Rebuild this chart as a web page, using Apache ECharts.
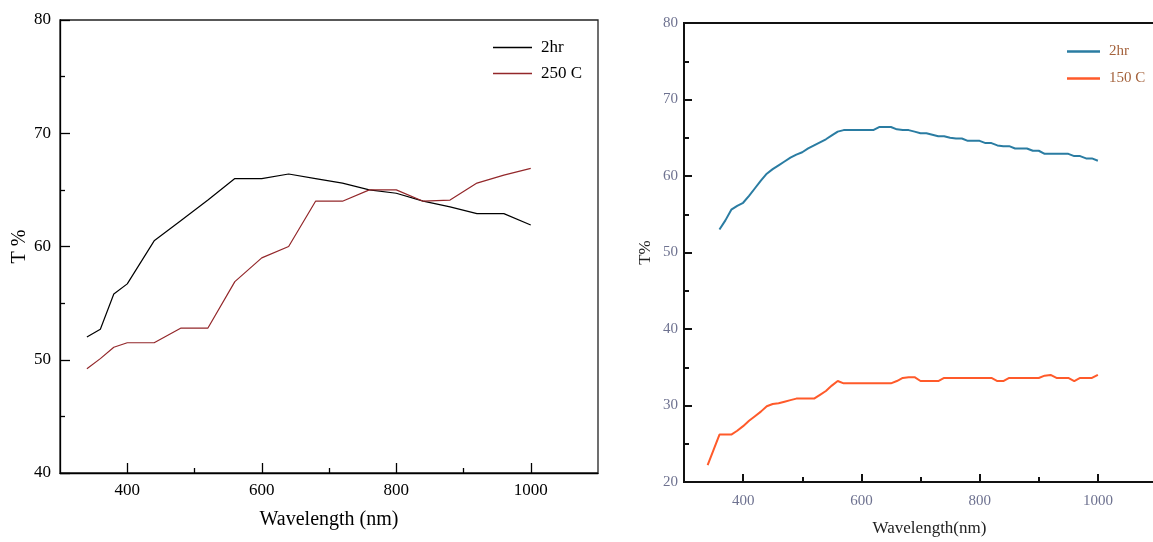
<!DOCTYPE html>
<html>
<head>
<meta charset="utf-8">
<script src="https://cdn.jsdelivr.net/npm/echarts@6/dist/echarts.min.js"></script>
<style>
  html, body { margin: 0; padding: 0; background: #fff; }
  #chart { width: 1153px; height: 542px; }
</style>
</head>
<body>
<div id="chart"></div>
<script>
// Left panel: transmittance after 2 h vs. 250 C anneal
const leftWavelength = [340, 360, 380, 400, 420, 440, 480, 520, 560, 600, 640, 680, 720, 760, 800, 840, 880, 920, 960, 1000];
const left2hr =        [52.0, 52.7, 55.8, 56.7, 58.6, 60.5, 62.3, 64.1, 66.0, 66.0, 66.4, 66.0, 65.6, 65.0, 64.7, 64.0, 63.5, 62.9, 62.9, 61.9];
const left250C =       [49.2, 50.1, 51.1, 51.5, 51.5, 51.5, 52.8, 52.8, 56.9, 59.0, 60.0, 64.0, 64.0, 65.0, 65.0, 64.0, 64.1, 65.6, 66.3, 66.9];

// Right panel: transmittance after 2 h vs. 150 C anneal
const rightWavelength = [
  340, 350, 360, 370, 380, 390, 400, 410, 420, 430,
  440, 450, 460, 470, 480, 490, 500, 510, 520, 530,
  540, 550, 560, 570, 580, 590, 600, 610, 620, 630,
  640, 650, 660, 670, 680, 690, 700, 710, 720, 730,
  740, 750, 760, 770, 780, 790, 800, 810, 820, 830,
  840, 850, 860, 870, 880, 890, 900, 910, 920, 930,
  940, 950, 960, 970, 980, 990, 1000
];
const right2hr = [
  null, null, 53.0, 54.2, 55.6, 56.1, 56.5, 57.4, 58.4, 59.4,
  60.3, 60.9, 61.4, 61.9, 62.4, 62.8, 63.1, 63.6, 64.0, 64.4,
  64.8, 65.3, 65.8, 66.0, 66.0, 66.0, 66.0, 66.0, 66.0, 66.4,
  66.4, 66.4, 66.1, 66.0, 66.0, 65.8, 65.6, 65.6, 65.4, 65.2,
  65.2, 65.0, 64.9, 64.9, 64.6, 64.6, 64.6, 64.3, 64.3, 64.0,
  63.9, 63.9, 63.6, 63.6, 63.6, 63.3, 63.3, 62.9, 62.9, 62.9,
  62.9, 62.9, 62.6, 62.6, 62.3, 62.3, 62.0
];
const right150C = [
  22.2, 24.2, 26.2, 26.2, 26.2, 26.7, 27.3, 28.0, 28.6, 29.2,
  29.9, 30.2, 30.3, 30.5, 30.7, 30.9, 30.9, 30.9, 30.9, 31.4,
  31.9, 32.6, 33.2, 32.9, 32.9, 32.9, 32.9, 32.9, 32.9, 32.9,
  32.9, 32.9, 33.2, 33.6, 33.7, 33.7, 33.2, 33.2, 33.2, 33.2,
  33.6, 33.6, 33.6, 33.6, 33.6, 33.6, 33.6, 33.6, 33.6, 33.2,
  33.2, 33.6, 33.6, 33.6, 33.6, 33.6, 33.6, 33.9, 34.0, 33.6,
  33.6, 33.6, 33.2, 33.6, 33.6, 33.6, 34.0
];

// Axis ticks
const xMajorTicks = [400, 600, 800, 1000];
const xMinorTicks = [500, 700, 900];

const pairs = (xs, ys) => xs.map((x, i) => [x, ys[i]]);
const plain = v => String(v);

const serif = '"Liberation Serif", "DejaVu Serif", serif';
const rightLabelColor = '#6e7290';

function xAxes(gridIndex, opt) {
  return [
    {
      type: 'value', gridIndex, min: 300, max: 1100, position: 'bottom',
      axisLine: { show: true, onZero: false, lineStyle: { color: opt.line, width: opt.lineWidth } },
      axisTick: { show: true, inside: true, length: opt.tick, customValues: xMajorTicks,
                  lineStyle: { color: opt.line, width: opt.lineWidth } },
      axisLabel: { customValues: xMajorTicks, margin: opt.labelMargin, formatter: plain,
                   fontFamily: serif, fontSize: opt.labelSize, color: opt.labelColor },
      splitLine: { show: false },
      name: opt.name, nameLocation: 'middle', nameGap: opt.nameGap,
      nameTextStyle: { fontFamily: serif, fontSize: opt.nameSize, color: opt.nameColor, padding: opt.namePad }
    },
    {
      type: 'value', gridIndex, min: 300, max: 1100, position: 'bottom',
      axisLine: { show: false, onZero: false },
      axisTick: { show: true, inside: true, length: opt.minorTick, customValues: xMinorTicks,
                  lineStyle: { color: opt.line, width: opt.lineWidth } },
      axisLabel: { show: false },
      splitLine: { show: false }
    }
  ];
}

function yAxis(gridIndex, min, opt) {
  return {
    type: 'value', gridIndex, min, max: 80, interval: 10,
    axisLine: { show: true, onZero: false, lineStyle: { color: opt.line, width: opt.lineWidth } },
    axisTick: { show: true, inside: true, length: opt.tick, lineStyle: { color: opt.line, width: opt.lineWidth } },
    minorTick: { show: true, splitNumber: 2, length: opt.minorTick, lineStyle: { color: opt.line, width: opt.lineWidth } },
    axisLabel: { margin: opt.labelMargin, fontFamily: serif, fontSize: opt.labelSize, color: opt.labelColor },
    splitLine: { show: false },
    minorSplitLine: { show: false },
    name: opt.name, nameLocation: 'middle', nameGap: opt.nameGap, nameRotate: 90,
    nameTextStyle: { fontFamily: serif, fontSize: opt.nameSize, color: opt.nameColor }
  };
}

const leftStyle = {
  line: '#000', lineWidth: 1.3, tick: 10, minorTick: 5, labelMargin: 9,
  labelSize: 17, labelColor: '#000', nameSize: 20, nameColor: '#000'
};
const rightStyle = {
  line: '#111', lineWidth: 2, tick: 8, minorTick: 5, labelMargin: 8,
  labelSize: 15, labelColor: rightLabelColor, nameSize: 17, nameColor: '#222'
};

const chart = echarts.init(document.getElementById('chart'), null, { renderer: 'canvas' });

chart.setOption({
  animation: false,
  backgroundColor: '#fff',
  grid: [
    { left: 60, top: 20, right: 555, bottom: 69, show: true, borderColor: '#222', borderWidth: 1.3,
      backgroundColor: 'transparent', outerBoundsMode: 'none' },
    // the right frame runs past the page edge, so its right border is cut off
    { left: 684, top: 23, width: 473, bottom: 60, show: true, borderColor: '#111', borderWidth: 2,
      backgroundColor: 'transparent', outerBoundsMode: 'none' }
  ],
  xAxis: [
    ...xAxes(0, Object.assign({}, leftStyle, { name: 'Wavelength (nm)', nameGap: 37, namePad: [0, 0, 0, 0] })),
    ...xAxes(1, Object.assign({}, rightStyle, { labelMargin: 12, name: 'Wavelength(nm)', nameGap: 38, namePad: [0, 0, 0, 18] }))
  ],
  yAxis: [
    yAxis(0, 40, Object.assign({}, leftStyle, { name: 'T %', nameGap: 29 })),
    yAxis(1, 20, Object.assign({}, rightStyle, { labelMargin: 6, name: 'T%', nameGap: 30 }))
  ],
  legend: [
    {
      orient: 'vertical', left: 488, top: 34, itemWidth: 39, itemHeight: 1.5, itemGap: 9,
      icon: 'rect',
      textStyle: { fontFamily: serif, fontSize: 17, color: '#000', padding: [0, 0, 0, 4] },
      data: [
        { name: '2hr', itemStyle: { color: '#000' } },
        { name: '250 C', itemStyle: { color: '#93272a' } }
      ]
    },
    {
      orient: 'vertical', left: 1062, top: 39, itemWidth: 33, itemHeight: 2.5, itemGap: 12,
      icon: 'rect',
      textStyle: { fontFamily: serif, fontSize: 15, color: '#a4623c', padding: [0, 0, 0, 4] },
      data: [
        { name: '2hr ', itemStyle: { color: '#2a7ca2' } },
        { name: '150 C', itemStyle: { color: '#ff5a2a' } }
      ]
    }
  ],
  series: [
    {
      name: '2hr', type: 'line', xAxisIndex: 0, yAxisIndex: 0,
      data: pairs(leftWavelength, left2hr), showSymbol: false,
      lineStyle: { color: '#000', width: 1.2 }, itemStyle: { color: '#000' }
    },
    {
      name: '250 C', type: 'line', xAxisIndex: 0, yAxisIndex: 0,
      data: pairs(leftWavelength, left250C), showSymbol: false,
      lineStyle: { color: '#93272a', width: 1.2 }, itemStyle: { color: '#93272a' }
    },
    {
      name: '2hr ', type: 'line', xAxisIndex: 2, yAxisIndex: 1,
      data: pairs(rightWavelength, right2hr), showSymbol: false,
      lineStyle: { color: '#2a7ca2', width: 2 }, itemStyle: { color: '#2a7ca2' }
    },
    {
      name: '150 C', type: 'line', xAxisIndex: 2, yAxisIndex: 1,
      data: pairs(rightWavelength, right150C), showSymbol: false,
      lineStyle: { color: '#ff5a2a', width: 2 }, itemStyle: { color: '#ff5a2a' }
    }
  ]
});
</script>
</body>
</html>
